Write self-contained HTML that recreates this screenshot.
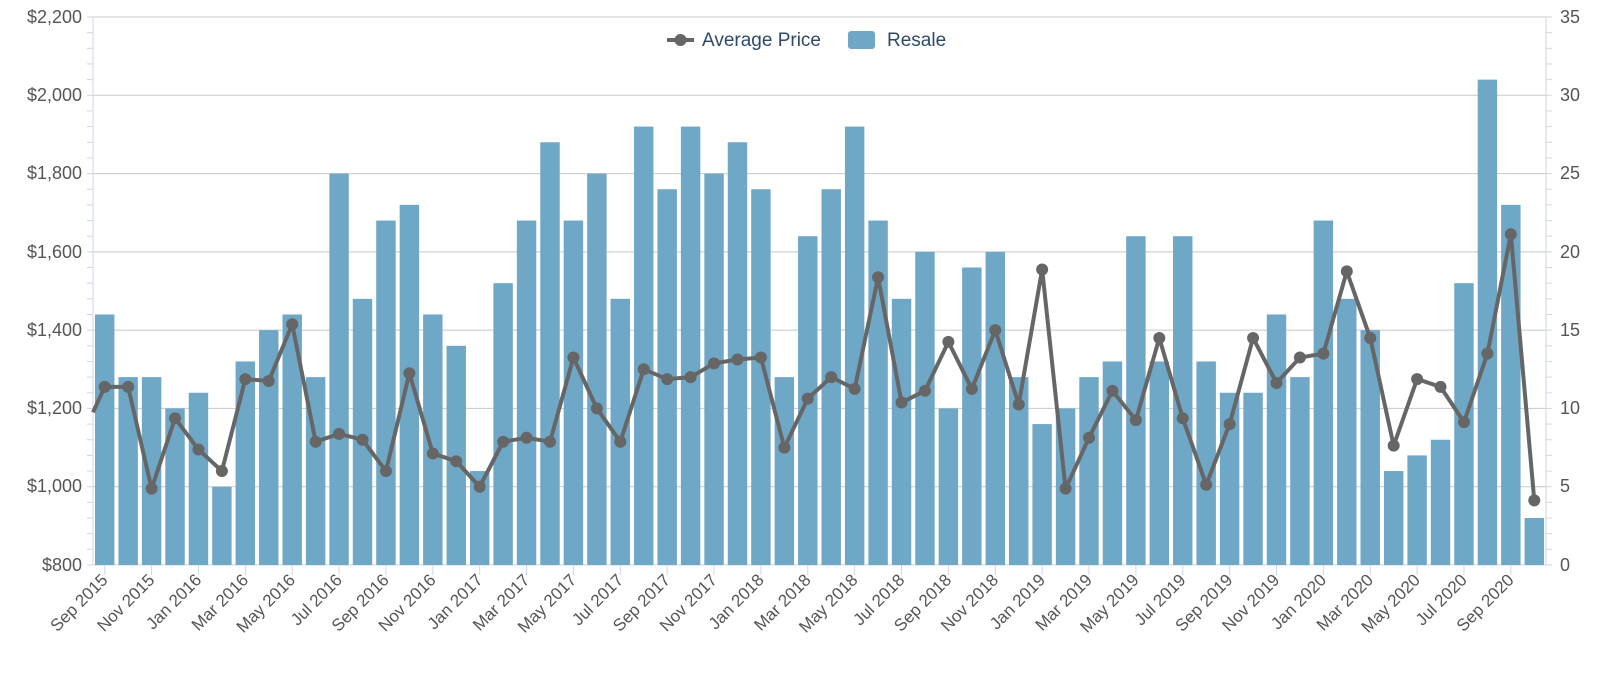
<!DOCTYPE html>
<html><head><meta charset="utf-8"><style>
html,body{margin:0;padding:0;background:#fff;}
svg text{font-family:"Liberation Sans",sans-serif;}
</style></head><body>
<svg id="c" width="1600" height="674" xmlns="http://www.w3.org/2000/svg">
<g id="grid"></g>
<g id="bars"></g>
<g id="axes"></g>
<g fill="#555" font-size="18" text-anchor="end">
<text x="82" y="23">$2,200</text>
<text x="82" y="101">$2,000</text>
<text x="82" y="179">$1,800</text>
<text x="82" y="258">$1,600</text>
<text x="82" y="336">$1,400</text>
<text x="82" y="414">$1,200</text>
<text x="82" y="492">$1,000</text>
<text x="82" y="571">$800</text>
</g>
<g fill="#555" font-size="18" text-anchor="start">
<text x="1560" y="23">35</text>
<text x="1560" y="101">30</text>
<text x="1560" y="179">25</text>
<text x="1560" y="258">20</text>
<text x="1560" y="336">15</text>
<text x="1560" y="414">10</text>
<text x="1560" y="492">5</text>
<text x="1560" y="571">0</text>
</g>
<g id="xl" fill="#555" font-size="17" text-anchor="end">
<text>Sep 2015</text><text>Nov 2015</text><text>Jan 2016</text><text>Mar 2016</text><text>May 2016</text><text>Jul 2016</text><text>Sep 2016</text><text>Nov 2016</text><text>Jan 2017</text><text>Mar 2017</text><text>May 2017</text><text>Jul 2017</text><text>Sep 2017</text><text>Nov 2017</text><text>Jan 2018</text><text>Mar 2018</text><text>May 2018</text><text>Jul 2018</text><text>Sep 2018</text><text>Nov 2018</text><text>Jan 2019</text><text>Mar 2019</text><text>May 2019</text><text>Jul 2019</text><text>Sep 2019</text><text>Nov 2019</text><text>Jan 2020</text><text>Mar 2020</text><text>May 2020</text><text>Jul 2020</text><text>Sep 2020</text>
</g>
<g id="line"></g>
<g>
<line x1="667" y1="40" x2="694" y2="40" stroke="#666" stroke-width="4"/>
<circle cx="680.5" cy="40" r="6" fill="#666"/>
<text x="702" y="46" font-size="19" fill="#2e4a68">Average Price</text>
<rect x="848" y="31" width="27" height="18" rx="3" fill="#6fa7c7"/>
<text x="887" y="46" font-size="19" fill="#2e4a68">Resale</text>
</g>
</svg>
<script>
var NS="http://www.w3.org/2000/svg";
function el(p,t,a){var e=document.createElementNS(NS,t);for(var k in a)e.setAttribute(k,a[k]);document.getElementById(p).appendChild(e);return e;}
var L=93,R=1546,T=17,B=565,n=62,w=(R-L)/n,iv=(B-T)/7;
for(var i=0;i<=7;i++){var y=T+i*iv;el("grid","line",{x1:L,x2:R,y1:y,y2:y,stroke:i==7?"#ccd6eb":"#c8c8c8","stroke-width":1});}
var res=[1440,1280,1280,1200,1240,1000,1320,1400,1440,1280,1800,1480,1680,1720,1440,1360,1040,1520,1680,1880,1680,1800,1480,1920,1760,1920,1800,1880,1760,1280,1640,1760,1920,1680,1480,1600,1200,1560,1600,1280,1160,1200,1280,1320,1640,1320,1640,1320,1240,1240,1440,1280,1680,1480,1400,1040,1080,1120,1520,2040,1720,920];
var avg=[1255,1255,995,1175,1095,1040,1275,1270,1415,1115,1135,1120,1040,1290,1085,1065,1000,1115,1125,1115,1330,1200,1115,1300,1275,1280,1315,1325,1330,1100,1225,1280,1250,1535,1215,1245,1370,1250,1400,1210,1555,995,1125,1245,1170,1380,1175,1005,1160,1380,1265,1330,1340,1550,1380,1105,1275,1255,1165,1340,1645,965];
function Y(v){return B-(v-800)/200*iv;}
for(var i=0;i<n;i++){var x=L+i*w+2,y=Y(res[i]);el("bars","rect",{x:x,y:y,width:w-4,height:B-y,fill:"#6fa7c7"});}
el("axes","line",{x1:L,x2:L,y1:T,y2:B,stroke:"#ccd6eb"});
el("axes","line",{x1:R,x2:R,y1:T,y2:B,stroke:"#ccd6eb"});
for(var i=0;i<=35;i++){var y=T+i*iv/5;el("axes","line",{x1:L-6,x2:L,y1:y,y2:y,stroke:"#ccd6eb"});el("axes","line",{x1:R,x2:R+6,y1:y,y2:y,stroke:"#ccd6eb"});}
for(var i=0;i<n;i+=2){var x=L+(i+0.5)*w;el("axes","line",{x1:x,x2:x,y1:B,y2:B+10,stroke:"#ccd6eb"});}
var xl=document.getElementById("xl").children;
for(var j=0;j<xl.length;j++){var x=L+(2*j+0.5)*w+4,y=B+16;xl[j].setAttribute("transform","translate("+x+","+y+") rotate(-45)");}
var pts=[[L,Y(1190)]];for(var i=0;i<n;i++)pts.push([L+(i+0.5)*w,Y(avg[i])]);
el("line","polyline",{points:pts.map(function(p){return p.join(",")}).join(" "),fill:"none",stroke:"#666","stroke-width":4,"stroke-linejoin":"round"});
for(var i=1;i<pts.length;i++)el("line","circle",{cx:pts[i][0],cy:pts[i][1],r:6,fill:"#666"});
</script>
</body></html>
